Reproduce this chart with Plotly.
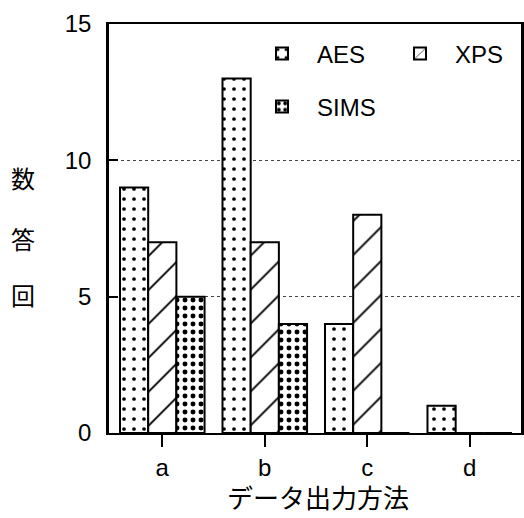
import plotly.graph_objects as go

# Survey answers per data-output method
categories = ["a", "b", "c", "d"]
aes = [9, 13, 4, 1]
xps = [7, 7, 8, 0]
sims = [5, 4, 0, 0]
y_ticks = [0, 5, 10, 15]
x_title = "データ出力方法"
y_title_chars = list("回答数")

FONT = "Liberation Sans, Arial, sans-serif"
CJK = "Noto Sans CJK JP, sans-serif"

W, H = 524, 518
L, R, T, B = 109, 3, 24, 85
pw, ph = W - L - R, H - T - B


def px_x(x):
    return (x - L) / pw


def px_y(y):
    return (H - B - y) / ph


fig = go.Figure()

series = [
    ("AES", aes, dict(shape=".", size=10, solidity=0.11), "legend"),
    ("XPS", xps, dict(shape="/", size=24, solidity=0.08), "legend2"),
    ("SIMS", sims, dict(shape=".", size=8, solidity=0.3), "legend3"),
]
for name, vals, pat, leg in series:
    fig.add_trace(go.Bar(
        name=name, x=categories, y=vals,
        marker=dict(
            color="white",
            line=dict(color="black", width=2),
            pattern=dict(fgcolor="black", bgcolor="white", fillmode="overlay",
                         fgopacity=1, **pat),
        ),
        legend=leg, showlegend=True,
    ))

legend_style = dict(
    orientation="v", bgcolor="rgba(0,0,0,0)",
    font=dict(family=FONT, size=24, color="black"),
    itemwidth=60, xanchor="left", yanchor="middle",
)

fig.update_layout(
    width=W, height=H,
    margin=dict(l=L, r=R, t=T, b=B, autoexpand=False),
    paper_bgcolor="white", plot_bgcolor="white",
    showlegend=True,
    barmode="group", bargap=0.175, bargroupgap=0,
    font=dict(family=FONT, size=24, color="black"),
    legend=dict(x=px_x(247), y=px_y(54), **legend_style),
    legend2=dict(x=px_x(385), y=px_y(54), **legend_style),
    legend3=dict(x=px_x(247), y=px_y(107), **legend_style),
    xaxis=dict(
        range=[-0.52, 3.5],
        showline=True, linecolor="black", linewidth=2, mirror=True,
        ticks="outside", ticklen=12, tickwidth=2, tickcolor="black",
        tickfont=dict(family=FONT, size=24),
        showgrid=False, zeroline=False,
    ),
    yaxis=dict(
        range=[0, 15], tickvals=y_ticks,
        showline=True, linecolor="black", linewidth=2.5, mirror=True,
        ticks="inside", ticklen=9, tickwidth=2, tickcolor="black",
        tickfont=dict(family=FONT, size=24),
        ticklabelstandoff=10,
        showgrid=True, gridcolor="#444", griddash="dot", gridwidth=1,
        zeroline=False,
    ),
)

# Horizontal axis title
fig.add_annotation(
    text=x_title, xref="paper", yref="paper", x=px_x(318), y=px_y(496),
    xanchor="center", yanchor="middle", showarrow=False, borderpad=0,
    font=dict(family=CJK, size=26, color="black"),
)

# Vertical axis title: upright characters stacked bottom to top
char_y = [294, 238, 177]
for ch, yp in zip(y_title_chars, char_y):
    fig.add_annotation(
        text=ch, xref="paper", yref="paper", x=px_x(23), y=px_y(yp),
        xanchor="center", yanchor="middle", showarrow=False,
        font=dict(family=CJK, size=24, color="black"),
    )

fig.write_html("out.html")
